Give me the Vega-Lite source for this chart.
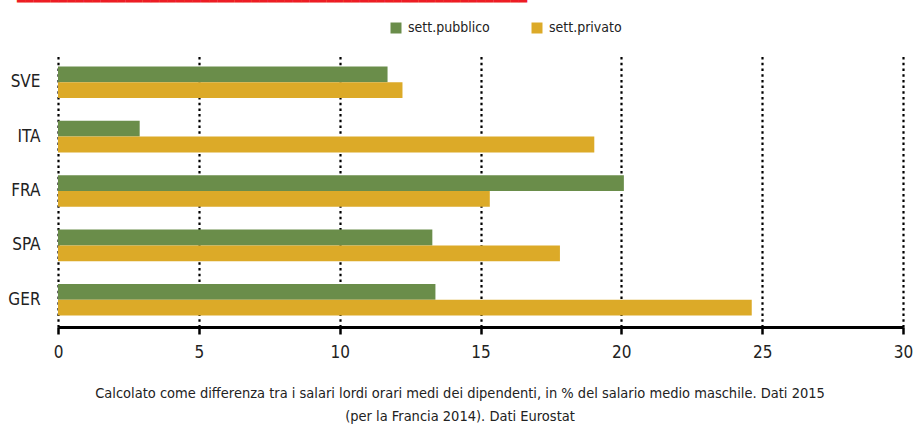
{
  "$schema": "https://vega.github.io/schema/vega-lite/v6.json",
  "width": 845,
  "height": 272,
  "autosize": "none",
  "padding": {"left": 58, "top": 55, "right": 11, "bottom": 101},
  "background": "white",
  "title": {
    "text": "━━━━━━━━━━━━━━━━━━━━━━━━━━━━━━━━━━━━━━━━━━━━━━━━━━━━━━━━━━━━━",
    "font": "DejaVu Sans Mono",
    "fontSize": 13.9,
    "fontWeight": "normal",
    "color": "#ED1C24",
    "anchor": "start",
    "frame": "group",
    "dx": -41,
    "offset": 12
  },
  "data": {
    "values": [
      {"paese": "SVE", "settore": "sett.pubblico", "valore": 11.7},
      {"paese": "SVE", "settore": "sett.privato", "valore": 12.23},
      {"paese": "ITA", "settore": "sett.pubblico", "valore": 2.9},
      {"paese": "ITA", "settore": "sett.privato", "valore": 19.04},
      {"paese": "FRA", "settore": "sett.pubblico", "valore": 20.09},
      {"paese": "FRA", "settore": "sett.privato", "valore": 15.33},
      {"paese": "SPA", "settore": "sett.pubblico", "valore": 13.29},
      {"paese": "SPA", "settore": "sett.privato", "valore": 17.82},
      {"paese": "GER", "settore": "sett.pubblico", "valore": 13.4},
      {"paese": "GER", "settore": "sett.privato", "valore": 24.63}
    ]
  },
  "mark": {"type": "bar"},
  "encoding": {
    "y": {
      "field": "paese",
      "type": "nominal",
      "sort": ["SVE", "ITA", "FRA", "SPA", "GER"],
      "scale": {"paddingInner": 0.42, "paddingOuter": 0.21},
      "axis": {
        "title": null,
        "domain": false,
        "ticks": false,
        "grid": false,
        "labelFont": "DejaVu Sans Condensed, Liberation Sans Narrow, Roboto",
        "labelFontSize": 17,
        "labelColor": "#222222",
        "labelPadding": 18
      }
    },
    "yOffset": {
      "field": "settore",
      "type": "nominal",
      "sort": ["sett.pubblico", "sett.privato"],
      "scale": {"paddingInner": 0, "paddingOuter": 0}
    },
    "x": {
      "field": "valore",
      "type": "quantitative",
      "scale": {"domain": [0, 30], "nice": false},
      "axis": {
        "values": [0, 5, 10, 15, 20, 25, 30],
        "labelFlush": false,
        "domain": true,
        "domainColor": "#000000",
        "domainWidth": 3,
        "ticks": true,
        "tickColor": "#000000",
        "tickWidth": 2.5,
        "tickSize": 7,
        "grid": true,
        "gridColor": "#000000",
        "gridWidth": 2.2,
        "gridDash": [2.5, 3.2],
        "gridOpacity": 1,
        "labelFont": "DejaVu Sans Condensed, Liberation Sans Narrow, Roboto",
        "labelFontSize": 17,
        "labelColor": "#222222",
        "labelPadding": 10,
        "title": ["Calcolato come differenza tra i salari lordi orari medi dei dipendenti, in % del salario medio maschile. Dati 2015", "(per la Francia 2014). Dati  Eurostat"],
        "titleFont": "DejaVu Sans Condensed, Liberation Sans Narrow, Roboto",
        "titleFontSize": 14.5,
        "titleFontWeight": "normal",
        "titleColor": "#222222",
        "titleLineHeight": 23,
        "titlePadding": 26,
        "titleX": 401.5,
        "titleAlign": "center",
        "titleAnchor": "start"
      }
    },
    "color": {
      "field": "settore",
      "type": "nominal",
      "scale": {"domain": ["sett.pubblico", "sett.privato"], "range": ["#6A8D4A", "#DCAA28"]},
      "legend": {
        "title": null,
        "orient": "none",
        "direction": "horizontal",
        "legendX": 331,
        "legendY": -34,
        "padding": 0,
        "symbolType": "square",
        "symbolSize": 121,
        "symbolStrokeWidth": 0,
        "labelFont": "DejaVu Sans Condensed, Liberation Sans Narrow, Roboto",
        "labelFontSize": 14,
        "labelColor": "#222222",
        "labelOffset": 5,
        "columnPadding": 40
      }
    }
  },
  "config": {"view": {"stroke": null}}
}
